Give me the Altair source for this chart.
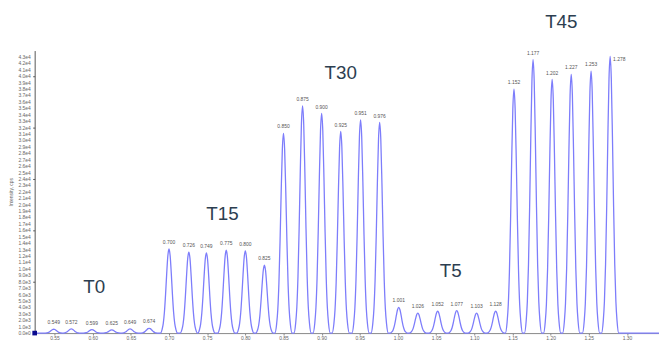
import altair as alt
import pandas as pd

# ---- data ----
peak_rt = [0.549, 0.572, 0.599, 0.625, 0.649, 0.674,
           0.700, 0.726, 0.749, 0.775, 0.800, 0.825,
           0.850, 0.875, 0.900, 0.925, 0.951, 0.976,
           1.001, 1.026, 1.052, 1.077, 1.103, 1.128,
           1.152, 1.177, 1.202, 1.227, 1.253, 1.278]
peak_height = [600, 650, 550, 500, 650, 750,
               13100, 12600, 12500, 12900, 12800, 10600,
               31100, 35400, 34200, 31400, 33200, 32800,
               4000, 3100, 3400, 3500, 3100, 3400,
               38000, 42600, 39500, 40300, 40800, 43100]
peak_label = ["0.549", "0.572", "0.599", "0.625", "0.649", "0.674",
              "0.700", "0.726", "0.749", "0.775", "0.800", "0.825",
              "0.850", "0.875", "0.900", "0.925", "0.951", "0.976",
              "1.001", "1.026", "1.052", "1.077", "1.103", "1.128",
              "1.152", "1.177", "1.202", "1.227", "1.253", "1.278"]

# peak shape (offset in min, relative intensity) read from one peak
profile_dt = [-0.0113, -0.009, -0.0075, -0.006, -0.0045, -0.003, -0.0015, 0.0,
              0.0015, 0.003, 0.0045, 0.006, 0.0075, 0.009, 0.0113]
profile_rel = [0.0, 0.045, 0.115, 0.25, 0.46, 0.71, 0.92, 1.0,
               0.92, 0.71, 0.46, 0.25, 0.115, 0.045, 0.0]

trace_start = 0.524
trace_end = 1.342

group_names = ["T0", "T15", "T30", "T5", "T45"]
group_x = [0.602, 0.770, 0.925, 1.069, 1.214]
group_y = [7100, 18500, 40500, 9700, 48500]

x_ticks = [0.55, 0.60, 0.65, 0.70, 0.75, 0.80, 0.85, 0.90, 0.95,
           1.00, 1.05, 1.10, 1.15, 1.20, 1.25, 1.30]
y_ticks = list(range(0, 44000, 1000))

# ---- build tables ----
rows = [{"t": trace_start, "i": 0.0}]
for rt, h in zip(peak_rt, peak_height):
    for dt, r in zip(profile_dt, profile_rel):
        rows.append({"t": rt + dt, "i": h * r})
rows.append({"t": trace_end, "i": 0.0})
trace_df = pd.DataFrame(rows)

peaks_df = pd.DataFrame({"t": peak_rt, "i": peak_height, "lab": peak_label})
groups_df = pd.DataFrame({"t": group_x, "i": group_y, "name": group_names})
start_df = pd.DataFrame({"t": [trace_start], "i": [0.0]})
ytick_df = pd.DataFrame({"t": [trace_start] * len(y_ticks), "i": y_ticks})

xs = alt.Scale(domain=[trace_start, trace_end], nice=False, zero=False)
ys = alt.Scale(domain=[0, 44000], nice=False)

x_axis = alt.Axis(values=x_ticks, format=".2f", title=None, grid=False,
                  labelFontSize=5, labelColor="#666", tickSize=2,
                  tickColor="#888", domainColor="#888", labelPadding=1,
                  labelOverlap=False, labelFont="Liberation Sans")
y_axis = alt.Axis(values=y_ticks, labels=False,
                  title="Intensity, cps", grid=False, tickSize=2,
                  tickColor="#555", domainColor="#555",
                  titleFontSize=5, titleFontWeight="normal", titleColor="#666",
                  titleX=-21, titleFont="Liberation Sans")

trace = alt.Chart(trace_df).mark_line(
    color="#7d7dfb", strokeWidth=1.3, interpolate="monotone"
).encode(
    x=alt.X("t:Q", scale=xs, axis=x_axis),
    y=alt.Y("i:Q", scale=ys, axis=y_axis),
    order="t:Q",
)

ylabels = alt.Chart(ytick_df).transform_calculate(
    lab="replace(format(datum.i, '.1e'), 'e+', 'e')"
).mark_text(
    fontSize=5, color="#666", dx=-4, align="right", baseline="middle",
    font="Liberation Sans"
).encode(x=alt.X("t:Q", scale=xs), y=alt.Y("i:Q", scale=ys), text="lab:N")

labels = alt.Chart(peaks_df).transform_filter(
    "datum.lab != '1.278'"
).mark_text(
    fontSize=5, color="#555", dy=-4, baseline="bottom",
    font="Liberation Sans"
).encode(x=alt.X("t:Q", scale=xs), y=alt.Y("i:Q", scale=ys), text="lab:N")

last_label = alt.Chart(peaks_df).transform_filter(
    "datum.lab == '1.278'"
).mark_text(
    fontSize=5, color="#555", dx=3, dy=3, align="left", baseline="middle",
    font="Liberation Sans"
).encode(x=alt.X("t:Q", scale=xs), y=alt.Y("i:Q", scale=ys), text="lab:N")

groups = alt.Chart(groups_df).mark_text(
    fontSize=19, color="#2c3e50", baseline="middle", align="center",
    font="Liberation Sans"
).encode(x=alt.X("t:Q", scale=xs), y=alt.Y("i:Q", scale=ys), text="name:N")

start = alt.Chart(start_df).mark_square(
    color="#0a0a90", size=22, opacity=1
).encode(x=alt.X("t:Q", scale=xs), y=alt.Y("i:Q", scale=ys))

chart = alt.layer(trace, ylabels, labels, last_label, groups, start).properties(
    width=632, height=286,
    padding={"left": 27, "top": 41, "right": 0, "bottom": 12},
    autosize=alt.AutoSizeParams(type="none"),
).configure_view(stroke=None)

chart.save("out.html", embed_options={"renderer": "svg", "actions": False})
